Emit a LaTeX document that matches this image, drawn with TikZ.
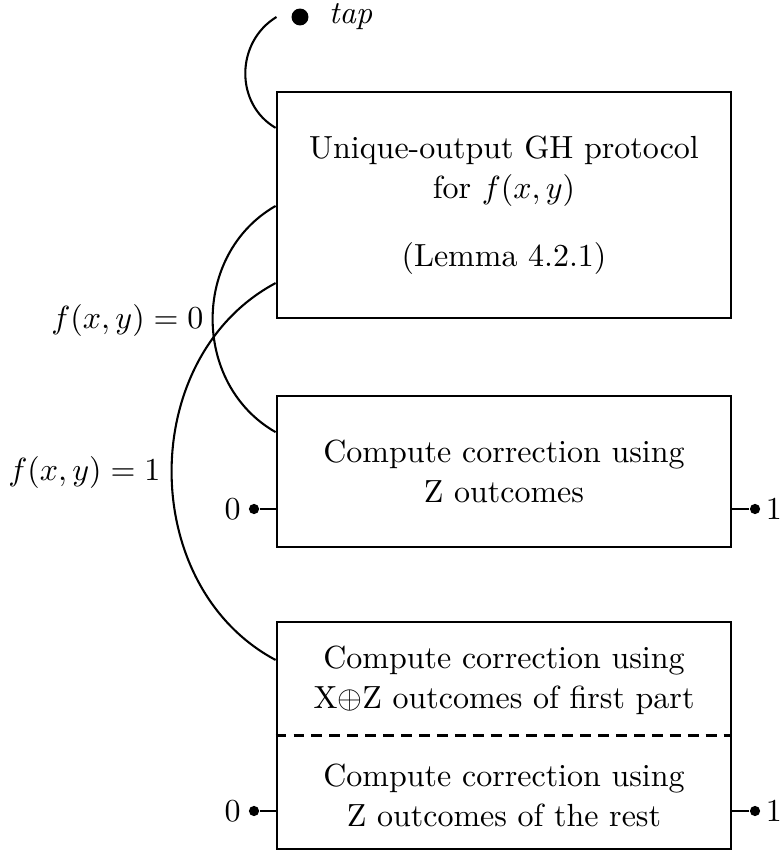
\documentclass[tikz,border=0pt]{standalone}
\usetikzlibrary{calc}
\begin{document}
\begin{tikzpicture}[x=0.3125pt,y=-0.3125pt,
  txt/.style={font=\fontsize{10}{12.5}\selectfont},
  box/.style={draw, line width=0.85pt, inner sep=0pt, minimum width=141.9pt, align=center, txt},
  wire/.style={line width=0.65pt},
  term/.style={circle, fill, inner sep=0pt, minimum size=3.2pt},
  lbl/.style={inner sep=0pt, txt}]
\useasboundingbox (0,0) rectangle (779,851);

% main blocks
\node[box, minimum height=70.6pt] (gh) at (504,205)
  {Unique-output GH protocol\\ for $f(x,y)$\\[8.8pt] (Lemma 4.2.1)};
\node[box, minimum height=47.2pt] (zc) at (504,471.5)
  {Compute correction using\\ Z outcomes};
\node[box, minimum height=70.9pt] (xz) at (504,735.5) {};
\draw[line width=0.85pt, dash pattern=on 3.4pt off 2.2pt] (xz.west) -- (xz.east);
\node[lbl, align=center] (xzup) at (504,680)
  {Compute correction using\\ X$\oplus$Z outcomes of first part};
\node[lbl, align=center] (xzlo) at (504,795)
  {Compute correction using\\ Z outcomes of the rest};

% tap point
\node[term, minimum size=5.3pt] (tap) at (300,17) {};
\node[lbl, anchor=west] (taplbl) at ([xshift=6pt]tap.east) {\textit{tap}};
\coordinate (tapend) at ([xshift=-4.5pt]tap.west);
\draw[wire] ([yshift=24.1pt]gh.west) .. controls +(-41,-24) and +(-41,25) .. (tapend);

% branches on the value of f
\draw[wire] ([yshift=-0.3pt]gh.west) .. controls +(-84,48) and +(-84,-48) .. ([yshift=12.3pt]zc.west);
\draw[wire] ([yshift=-24.4pt]gh.west) .. controls +(-138.7,74) and +(-138.7,-74) .. ([yshift=23.6pt]xz.west);
\node[lbl, anchor=east] (f0) at (204,321) {$f(x,y)=0$};
\node[lbl, anchor=east] (f1) at (161,472) {$f(x,y)=1$};

% outputs
\node[term] (zc0) at (254,509) {};
\node[term] (zc1) at (755,509) {};
\draw[wire] (zc0) -- (zc0 -| zc.west);
\draw[wire] (zc1) -- (zc1 -| zc.east);
\node[lbl, anchor=east] (zc0l) at ([xshift=-2.2pt]zc0.west) {0};
\node[lbl, anchor=west] (zc1l) at ([xshift=1.4pt]zc1.east) {1};

\node[term] (xz0) at (254,811) {};
\node[term] (xz1) at (755,811) {};
\draw[wire] (xz0) -- (xz0 -| xz.west);
\draw[wire] (xz1) -- (xz1 -| xz.east);
\node[lbl, anchor=east] (xz0l) at ([xshift=-2.2pt]xz0.west) {0};
\node[lbl, anchor=west] (xz1l) at ([xshift=1.4pt]xz1.east) {1};
\end{tikzpicture}
\end{document}
